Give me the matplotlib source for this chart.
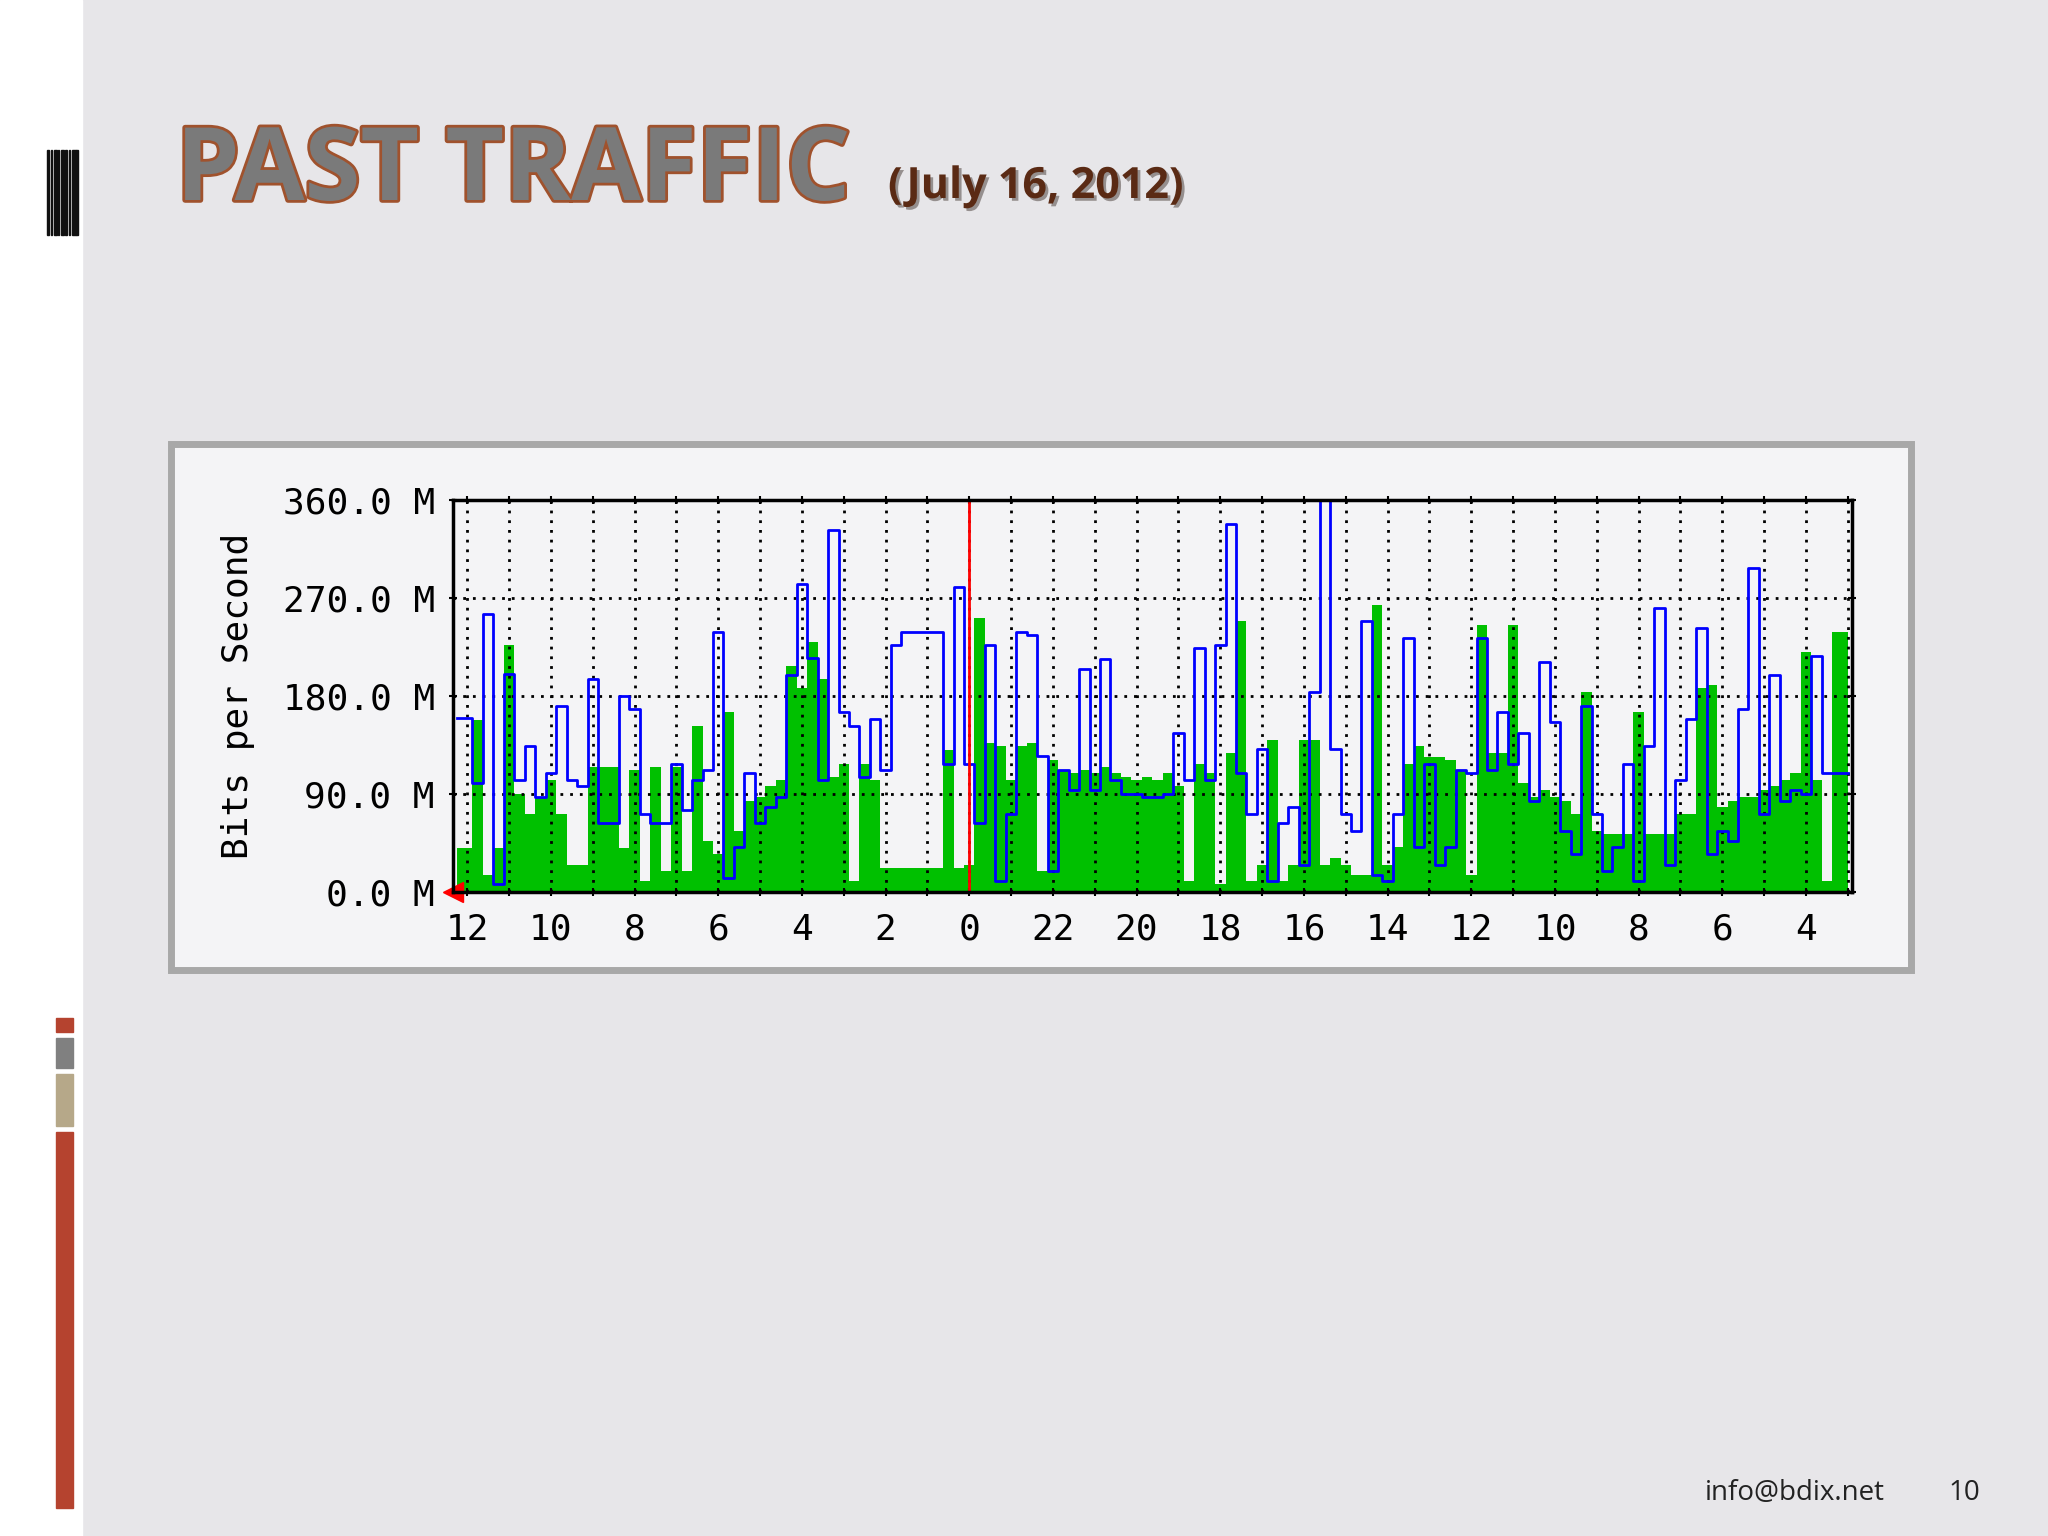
import matplotlib.pyplot as plt
import matplotlib.patheffects as pe
from matplotlib.patches import Rectangle
from matplotlib.ticker import FixedLocator, MultipleLocator

# hours ago, sampled every 0.25 h (left = newest)
hours = [i * 0.25 for i in range(-1, 133)]
green = [40, 40, 158, 16, 40, 227, 90, 72, 87, 103, 72, 25, 25, 115, 115, 115, 40, 112,
         10, 115, 19, 115, 19, 152, 47, 35, 165, 56, 84, 87, 97, 103, 208, 187, 230, 196,
         106, 118, 10, 118, 103, 22, 22, 22, 22, 22, 22, 130, 22, 25, 252, 137, 134, 103,
         134, 137, 19, 121, 112, 109, 112, 109, 115, 109, 106, 103, 106, 103, 109, 97, 10,
         118, 109, 7, 128, 249, 10, 25, 140, 10, 25, 140, 140, 25, 31, 25, 16, 16, 264, 25,
         41, 118, 134, 124, 124, 121, 112, 16, 245, 128, 128, 245, 100, 87, 94, 87, 84, 72,
         184, 56, 53, 53, 53, 165, 53, 53, 53, 72, 72, 187, 190, 78, 84, 87, 87, 94, 97, 103,
         109, 220, 103, 10, 239, 239]
blue = [160, 160, 100, 255, 7, 200, 103, 134, 87, 109, 171, 103, 97, 196, 63, 63, 180, 168,
        72, 63, 63, 118, 75, 103, 112, 239, 13, 41, 109, 63, 78, 87, 199, 283, 215, 103,
        332, 165, 152, 106, 159, 112, 227, 239, 239, 239, 239, 118, 280, 118, 63, 227, 10,
        72, 239, 236, 125, 19, 112, 94, 205, 94, 214, 103, 90, 90, 87, 87, 90, 146, 103,
        224, 103, 227, 338, 109, 72, 131, 10, 63, 78, 25, 184, 363, 131, 72, 56, 249, 16,
        10, 72, 233, 41, 118, 25, 41, 112, 109, 233, 112, 165, 118, 146, 84, 211, 156, 56,
        35, 171, 72, 19, 41, 118, 10, 134, 261, 25, 103, 159, 242, 35, 56, 47, 168, 298,
        72, 199, 84, 94, 90, 217, 109, 109, 109]
y_ticks = [0, 90, 180, 270, 360]
y_labels = ["0.0 M", "90.0 M", "180.0 M", "270.0 M", "360.0 M"]
x_labels = [12, 10, 8, 6, 4, 2, 0, 22, 20, 18, 16, 14, 12, 10, 8, 6, 4]

n = min(len(hours), len(green), len(blue))
hours, green, blue = hours[:n], green[:n], blue[:n]

fig = plt.figure(figsize=(20.48, 15.36), dpi=100)
fig.patch.set_facecolor("#e7e6e9")

# left white strip and decorations
fig.add_artist(Rectangle((0, 0), 82 / 2048, 1, transform=fig.transFigure, color="white", zorder=0))
for i, w in enumerate([3, 2, 4, 2, 5, 3, 2, 6, 3]):
    x = 47 + i * 3.6
    fig.add_artist(Rectangle((x / 2048, 1 - 235 / 1536), w / 2048 * 0.6, 85 / 1536,
                             transform=fig.transFigure, color="#111111"))
for y0, y1, c in [(1018, 1032, "#b5432f"), (1038, 1068, "#808080"), (1074, 1126, "#b6a889"),
                  (1132, 1508, "#b5432f")]:
    fig.add_artist(Rectangle((56 / 2048, 1 - y1 / 1536), 17 / 2048, (y1 - y0) / 1536,
                             transform=fig.transFigure, color=c))

# title
fig.text(176 / 2048, 1 - 200 / 1536, "PAST TRAFFIC", fontsize=73, fontweight="bold",
         family="Open Sans", color="#7a7a7a",
         path_effects=[pe.withStroke(linewidth=4, foreground="#a0522d")])
fig.text(888 / 2048, 1 - 198 / 1536, "(July 16, 2012)", fontsize=31, fontweight="bold",
         family="Open Sans", color="#5a2a14",
         path_effects=[pe.withSimplePatchShadow(offset=(2, -2), alpha=0.4)])

# panel
fig.add_artist(Rectangle((171 / 2048, 1 - 970 / 1536), 1740 / 2048, 526 / 1536,
                         transform=fig.transFigure, facecolor="#f4f4f6",
                         edgecolor="#a8a8a8", linewidth=5, zorder=-1))

ax = fig.add_axes([453 / 2048, 1 - 892 / 1536, 1399 / 2048, 392 / 1536])
ax.set_zorder(5)
ax.set_facecolor("#f4f4f6")
ax.fill_between(hours, green, step="mid", color="#00c000", linewidth=0)
ax.step(hours, blue, where="mid", color="#0000ff", linewidth=2)
ax.axvline(12, color="red", linewidth=2)
ax.set_xlim(-0.34, 33.1)
ax.set_ylim(0, 360)

ax.xaxis.set_major_locator(FixedLocator(range(0, 33, 2)))
ax.xaxis.set_minor_locator(MultipleLocator(1))
ax.set_xticklabels([str(v) for v in x_labels])
ax.set_yticks(y_ticks)
ax.set_yticklabels(y_labels)
ax.tick_params(labelsize=26, length=6, width=1.5, direction="inout", top=True, right=True)
ax.tick_params(axis="x", pad=12)
ax.tick_params(axis="y", pad=10)
ax.tick_params(which="minor", length=6, width=1.5, direction="inout", top=True)
for lab in ax.get_xticklabels() + ax.get_yticklabels():
    lab.set_family("DejaVu Sans Mono")
ax.grid(which="both", axis="x", color="black", linestyle=(0, (1, 2.5)), linewidth=2)
ax.grid(axis="y", color="black", linestyle=(0, (1, 2.5)), linewidth=2)
for s in ax.spines.values():
    s.set_linewidth(2.5)
ax.set_ylabel("Bits per Second", fontsize=26, family="DejaVu Sans Mono", labelpad=20)
ax.plot([-0.34], [0], marker="<", color="red", markersize=14, clip_on=False)

fig.text(1705 / 2048, 1 - 1500 / 1536, "info@bdix.net", fontsize=20, family="Open Sans", color="#222222")
fig.text(1948 / 2048, 1 - 1500 / 1536, "10", fontsize=20, family="Open Sans", color="#222222")

fig.savefig("out.png", dpi=100, facecolor=fig.get_facecolor())
